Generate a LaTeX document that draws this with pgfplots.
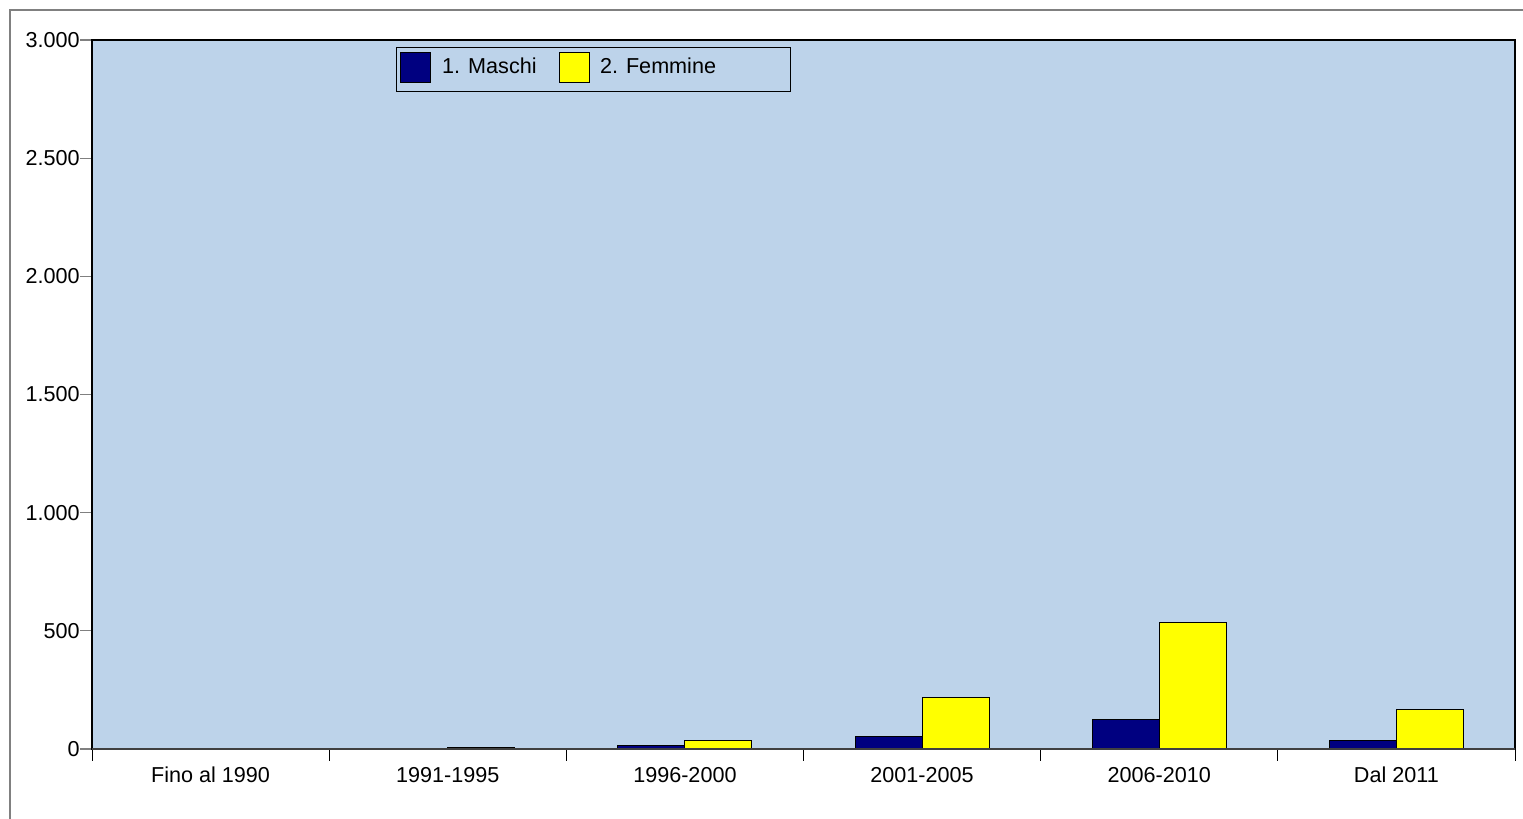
\documentclass[border=0pt]{standalone}
\usepackage{pgfplots}
\pgfplotsset{compat=1.18}
\usepackage{fontspec}
\setmainfont{Liberation Sans}
\definecolor{bgblue}{HTML}{BDD3EA}
\definecolor{maschi}{HTML}{000080}
\definecolor{femmine}{HTML}{FFFF00}
\definecolor{framegray}{HTML}{808080}
\begin{document}
\begin{tikzpicture}
\useasboundingbox (-46pt,-35pt) rectangle (715.5pt,374.5pt);
\draw[framegray, line width=1pt] (-41pt,-60pt) -- (-41pt,369.5pt) -- (760pt,369.5pt);
\begin{axis}[
  at={(0pt,0pt)}, anchor=south west,
  scale only axis,
  width=711.5pt, height=354.5pt,
  ybar=0pt, bar width=33.5pt,
  xmin=-0.5, xmax=5.5,
  ymin=0, ymax=3000,
  axis background/.style={fill=bgblue},
  axis line style={black, line width=0.6pt},
  xtick={0,...,5},
  xticklabels={Fino al 1990,1991-1995,1996-2000,2001-2005,2006-2010,Dal 2011},
  minor xtick={-0.5,0.5,1.5,2.5,3.5,4.5,5.5},
  major x tick style={draw=none},
  minor x tick style={black, line width=0.4pt},
  minor tick length=6pt,
  ytick={0,500,...,3000},
  y tick style={framegray, line width=0.6pt},
  major tick length=6pt,
  tick align=outside,
  tick pos=left,
  xticklabel style={font=\fontsize{10.8}{12}\selectfont, yshift=0.5pt},
  yticklabel style={font=\fontsize{10.8}{12}\selectfont, inner xsep=0pt},
  /pgf/number format/.cd, 1000 sep={.}, assume math mode=true,
  /pgfplots/.cd,
  legend columns=2,
  legend style={at={(0.2136,0.990)}, anchor=north west, fill=bgblue, draw=black, line width=0.5pt,
    font=\fontsize{10.8}{12}\selectfont, inner xsep=2pt, inner ysep=2pt,
    /tikz/every even column/.append style={column sep=0pt}},
  legend image code/.code={\path[draw=none, fill=none] (0pt,-10.5pt) rectangle (15pt,-10.5pt);\draw[#1, draw=black, line width=0.4pt] (0pt,-7.5pt) rectangle (15pt,7.5pt);},
  legend cell align=left,
]
\addplot[fill=maschi, draw=black, line width=0.5pt] coordinates {(0,3) (1,4) (2,13) (3,51) (4,123) (5,38)};
\addplot[fill=femmine, draw=black, line width=0.5pt] coordinates {(0,0) (1,7) (2,34) (3,220) (4,537) (5,169)};
\legend{\makebox[60pt][l]{\hspace{3.5pt}1. Maschi},\makebox[94pt][l]{\hspace{3pt}2. Femmine}}
\end{axis}
\draw[black!75, line width=1pt] (0pt,0pt) -- (711.5pt,0pt);
\end{tikzpicture}
\end{document}
